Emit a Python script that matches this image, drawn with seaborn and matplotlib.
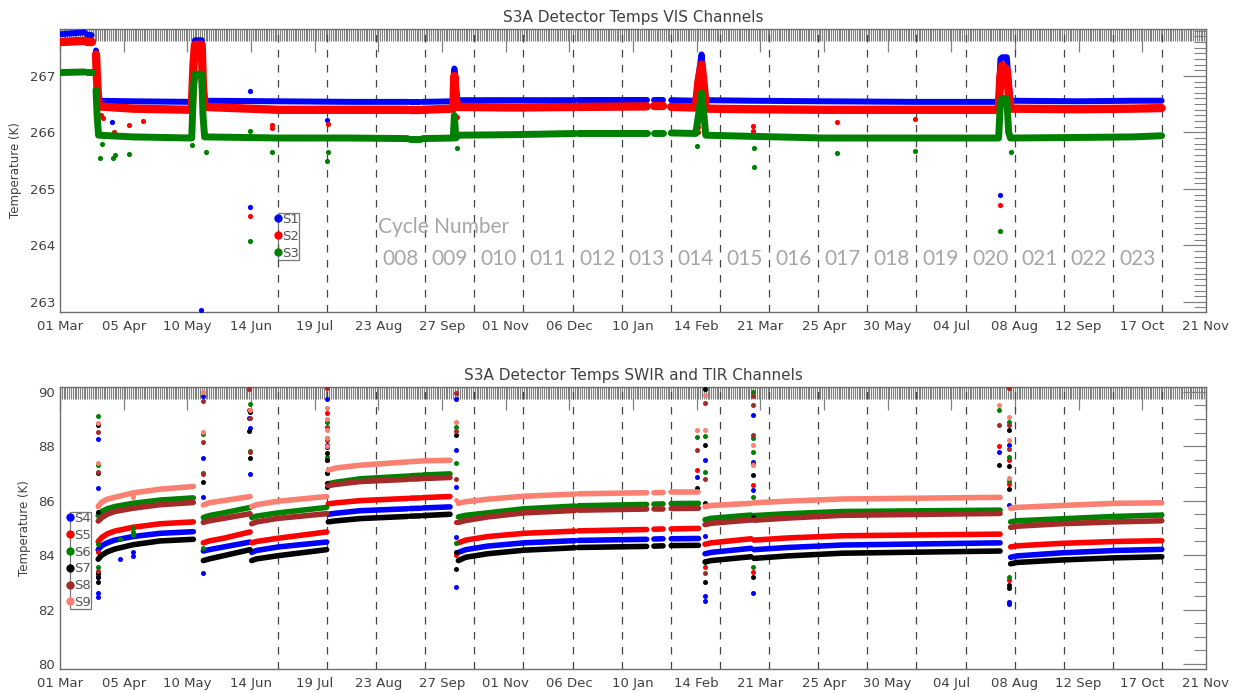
import numpy as np
import pandas as pd
import matplotlib
matplotlib.use("Agg")
import matplotlib.pyplot as plt
import matplotlib.dates as mdates
from matplotlib.ticker import FixedLocator, MultipleLocator
from matplotlib.lines import Line2D
import matplotlib.transforms as mtransforms
import seaborn as sns

sns.set_style("white")
plt.rcParams['font.family'] = ['DejaVu Sans']

# ---------------- data ----------------
START_DATE = "2016-03-01"          # day 0 of all "day" arrays
X_END_DAY = 630                    # 21 Nov 2017

x_tick_days = [0, 35, 70, 105, 140, 175, 210, 245, 280, 315, 350, 385, 420, 455, 490, 525, 560, 595, 630]
x_tick_labels = ['01 Mar', '05 Apr', '10 May', '14 Jun', '19 Jul', '23 Aug', '27 Sep', '01 Nov', '06 Dec',
                 '10 Jan', '14 Feb', '21 Mar', '25 Apr', '30 May', '04 Jul', '08 Aug', '12 Sep', '17 Oct', '21 Nov']

cycle_start_days = [119.8, 146.8, 173.8, 200.8, 227.8, 254.8, 281.8, 308.8, 335.8, 362.8,
                    389.8, 416.8, 443.8, 470.8, 497.8, 524.8, 551.8, 578.8, 605.8]
cycle_labels = ['008', '009', '010', '011', '012', '013', '014', '015',
                '016', '017', '018', '019', '020', '021', '022', '023']   # cycles starting at cycle_start_days[2:]

# ---- VIS channels (top panel): segments of dense samples ----
vis_seg_days = [
    [1, 13.5],
    [15, 17.4],
    [19.8, 20.4, 21.2, 40, 72.4, 73.4, 74.2, 77.9, 78.6, 79.5, 120, 160, 191],
    [192.5, 198],
    [199.5, 216.2, 216.8, 217.6, 218.5, 250, 283],
    [285, 322.5],
    [326.5, 331.5],
    [336, 349.5, 351, 352.7, 354, 355, 380, 420, 470, 516, 517, 518, 520.5, 521.5, 522.5, 560, 590, 605.6],
]
s1_vals = [
    [267.74, 267.77],
    [267.73, 267.72],
    [267.45, 267.0, 266.56, 266.55, 266.54, 267.3, 267.63, 267.63, 266.9, 266.56, 266.55, 266.54, 266.54],
    [266.54, 266.54],
    [266.54, 266.55, 267.13, 266.8, 266.57, 266.57, 266.57],
    [266.57, 266.57],
    [266.57, 266.57],
    [266.57, 266.56, 267.0, 267.38, 266.9, 266.57, 266.56, 266.55, 266.54, 266.54, 267.3, 267.33, 267.33,
     266.9, 266.56, 266.55, 266.56, 266.56],
]
s2_vals = [
    [267.6, 267.62],
    [267.6, 267.6],
    [267.38, 266.9, 266.46, 266.42, 266.4, 267.2, 267.55, 267.55, 266.8, 266.45, 266.4, 266.4, 266.4],
    [266.4, 266.4],
    [266.4, 266.42, 267.0, 266.6, 266.45, 266.44, 266.45],
    [266.45, 266.46],
    [266.46, 266.46],
    [266.45, 266.44, 266.9, 267.2, 266.8, 266.42, 266.41, 266.4, 266.4, 266.4, 267.0, 267.18, 267.1,
     266.7, 266.42, 266.41, 266.42, 266.43],
]
s3_vals = [
    [267.06, 267.07],
    [267.06, 267.06],
    [266.75, 266.3, 265.95, 265.92, 265.9, 266.8, 267.03, 267.03, 266.3, 265.92, 265.9, 265.9, 265.89],
    [265.89, 265.89],
    [265.89, 265.9, 266.3, 265.9, 265.95, 265.96, 265.98],
    [265.99, 265.99],
    [265.99, 265.99],
    [265.99, 265.98, 266.3, 266.7, 266.3, 265.95, 265.93, 265.9, 265.9, 265.9, 266.55, 266.6, 266.6,
     266.0, 265.9, 265.91, 265.92, 265.94],
]
# isolated VIS samples
s1_out_days = [28.4, 78.7, 77.5, 104.5, 104.5, 146.6, 516.8]
s1_out_vals = [266.18, 266.4, 262.86, 266.74, 264.67, 266.22, 264.89]
s2_out_days = [22.5, 23.5, 29.6, 38, 45.6, 104.5, 116.6, 116.6, 147.6, 218, 350.5, 350.5, 381, 381, 427, 470, 516.8]
s2_out_vals = [266.3, 266.25, 266.0, 266.13, 266.2, 264.52, 266.13, 266.08, 266.15, 266.27, 266.1, 266.0,
               266.12, 266.03, 266.18, 266.24, 264.71]
s3_out_days = [22, 23, 29, 30, 38, 72.5, 80.2, 104.5, 104.5, 116.6, 146.6, 147.6, 218.5, 350.4, 381.3, 381.3,
               427, 470, 516.8, 522.8]
s3_out_vals = [265.55, 265.8, 265.55, 265.6, 265.62, 265.77, 265.66, 264.08, 266.03, 265.65, 265.5, 265.66,
               265.73, 265.76, 265.38, 265.73, 265.64, 265.67, 264.26, 265.66]

# ---- SWIR / TIR channels (bottom panel) ----
swir_seg_days = [
    [21, 23, 26, 30, 40, 55, 73.3],
    [78.8, 82, 90, 104.5],
    [105.4, 108, 120, 146.6],
    [147.5, 152, 165, 191],
    [192.5, 198],
    [199.5, 214.4],
    [219, 223, 235, 255, 283],
    [285, 322.5],
    [326.5, 331.5],
    [336, 351],
    [354.6, 358, 379.9],
    [381.5, 400, 430, 516.8],
    [522.6, 526, 550, 580, 605.7],
]
s4_vals = [[84.2, 84.35, 84.45, 84.55, 84.68, 84.8, 84.86], [84.15, 84.2, 84.3, 84.48], [84.1, 84.17, 84.3, 84.48],
           [85.5, 85.54, 85.63, 85.7], [85.71, 85.72], [85.73, 85.77], [84.1, 84.2, 84.33, 84.45, 84.53],
           [84.54, 84.58], [84.59, 84.6], [84.6, 84.61], [84.05, 84.1, 84.25], [84.2, 84.28, 84.37, 84.45],
           [83.92, 83.97, 84.08, 84.17, 84.21]]
s5_vals = [[84.5, 84.65, 84.78, 84.88, 85.02, 85.15, 85.22], [84.45, 84.52, 84.62, 84.85], [84.45, 84.5, 84.62, 84.85],
           [85.88, 85.92, 86.0, 86.08], [86.09, 86.1], [86.11, 86.15], [84.45, 84.55, 84.68, 84.8, 84.88],
           [84.89, 84.94], [84.95, 84.96], [84.96, 84.98], [84.4, 84.45, 84.6], [84.55, 84.63, 84.71, 84.77],
           [84.3, 84.34, 84.43, 84.5, 84.53]]
s6_vals = [[85.45, 85.6, 85.7, 85.78, 85.9, 86.02, 86.1], [85.38, 85.45, 85.55, 85.75], [85.38, 85.43, 85.55, 85.75],
           [86.62, 86.68, 86.8, 86.9], [86.91, 86.93], [86.94, 86.98], [85.4, 85.46, 85.55, 85.7, 85.8],
           [85.81, 85.86], [85.87, 85.88], [85.89, 85.9], [85.3, 85.35, 85.47], [85.45, 85.52, 85.6, 85.65],
           [85.22, 85.26, 85.33, 85.42, 85.47]]
s7_vals = [[83.85, 84.0, 84.12, 84.22, 84.38, 84.52, 84.58], [83.8, 83.86, 83.98, 84.2], [83.8, 83.86, 83.98, 84.2],
           [85.22, 85.26, 85.34, 85.42], [85.43, 85.44], [85.45, 85.5], [83.8, 83.92, 84.05, 84.18, 84.27],
           [84.28, 84.32], [84.33, 84.34], [84.35, 84.36], [83.75, 83.8, 83.94], [83.88, 83.97, 84.07, 84.15],
           [83.68, 83.73, 83.82, 83.9, 83.94]]
s8_vals = [[85.25, 85.38, 85.5, 85.6, 85.72, 85.85, 85.93], [85.2, 85.26, 85.35, 85.52], [85.15, 85.22, 85.35, 85.52],
           [86.55, 86.6, 86.7, 86.78], [86.79, 86.8], [86.81, 86.85], [85.2, 85.27, 85.4, 85.55, 85.64],
           [85.65, 85.69], [85.7, 85.7], [85.71, 85.72], [85.12, 85.17, 85.29], [85.28, 85.36, 85.46, 85.53],
           [85.02, 85.06, 85.15, 85.22, 85.26]]
s9_vals = [[85.78, 85.95, 86.05, 86.12, 86.28, 86.42, 86.52], [85.84, 85.92, 86.0, 86.15], [85.78, 85.85, 85.98, 86.15],
           [87.12, 87.2, 87.3, 87.42], [87.43, 87.45], [87.46, 87.48], [85.9, 85.96, 86.05, 86.16, 86.24],
           [86.25, 86.29], [86.29, 86.3], [86.3, 86.3], [85.78, 85.82, 85.9], [85.92, 85.98, 86.06, 86.12],
           [85.72, 85.75, 85.82, 85.9, 85.92]]

# isolated SWIR / TIR samples
s4_out_days = [20.8, 20.8, 20.8, 20.8, 20.8, 33, 40.3, 40.3, 78.8, 78.8, 78.8, 78.8, 104.0, 104.6, 104.6,
               146.8, 146.8, 146.8, 217.5, 217.5, 217.5, 217.5, 217.5, 350, 354.6, 354.6, 354.6, 354.6,
               380.8, 380.8, 380.8, 380.8, 516.4, 521.8, 521.8, 521.8, 521.8]
s4_out_vals = [88.25, 86.45, 83.2, 82.6, 82.45, 83.84, 84.1, 83.98, 89.85, 87.58, 86.12, 83.35, 89.05, 88.68, 86.96,
               89.72, 88.04, 87.0, 89.72, 87.86, 86.49, 84.68, 82.84, 86.88, 87.49, 84.7, 82.5, 82.33,
               89.14, 87.43, 86.39, 82.6, 87.8, 88.04, 85.84, 82.29, 82.2]
s5_out_days = [20.8, 20.8, 104.0, 146.8, 146.8, 217.5, 217.5, 350, 354.6, 380.8, 380.8, 516.4, 521.8, 521.8, 521.8]
s5_out_vals = [84.12, 83.3, 89.33, 89.2, 87.5, 85.2, 84.0, 87.12, 83.57, 86.57, 83.39, 88.0, 87.49, 86.61, 83.08]
s6_out_days = [20.8, 20.8, 20.8, 20.8, 33, 40.3, 40.3, 40.3, 78.8, 78.8, 78.8, 104.6, 104.6, 146.8, 146.8, 146.8,
               217.5, 217.5, 217.5, 350, 354.6, 354.6, 354.6, 380.8, 380.8, 380.8, 380.8, 380.8, 516.4, 521.8,
               521.8, 521.8, 521.8]
s6_out_vals = [89.11, 87.31, 84.4, 83.57, 84.6, 85.0, 84.85, 84.74, 88.43, 87.03, 84.25, 89.53, 87.83, 88.9, 88.3, 87.6,
               88.71, 87.37, 84.43, 88.35, 88.37, 87.06, 83.76, 89.98, 88.29, 87.8, 86.14, 83.57, 89.33, 88.9,
               87.59, 86.73, 83.21]
s7_out_days = [20.8, 20.8, 20.8, 20.8, 20.8, 20.8, 78.8, 104.0, 104.6, 104.6, 146.8, 146.8, 146.8, 146.8, 146.8,
               146.8, 217.5, 217.5, 217.5, 350, 354.6, 354.6, 354.6, 354.6, 380.8, 380.8, 380.8, 516.4, 521.8,
               521.8, 521.8, 521.8, 521.8]
s7_out_vals = [88.78, 87.0, 85.6, 83.33, 83.21, 83.02, 86.7, 88.56, 89.24, 87.55, 87.98, 87.74, 87.49, 87.0, 86.63,
               86.51, 88.41, 84.12, 83.48, 86.45, 90.09, 88.04, 85.9, 83.02, 86.94, 85.41, 83.21, 87.31, 88.59,
               87.27, 86.41, 82.9, 82.78]
s8_out_days = [20.8, 20.8, 20.8, 78.8, 78.8, 78.8, 104.0, 104.6, 104.6, 146.8, 146.8, 146.8, 217.5, 217.5, 217.5,
               350, 354.6, 354.6, 354.6, 380.8, 380.8, 380.8, 380.8, 516.4, 521.8, 521.8, 521.8]
s8_out_vals = [88.53, 87.06, 83.43, 89.67, 88.16, 86.96, 90.09, 89.05, 87.8, 90.12, 88.7, 88.22, 89.94, 88.57, 86.79,
               87.86, 89.57, 86.78, 83.33, 89.84, 89.51, 88.41, 87.34, 88.78, 90.12, 88.78, 87.88]
s9_out_days = [20.8, 20.8, 20.8, 40.3, 78.8, 78.8, 104.6, 146.8, 146.8, 146.8, 146.8, 146.8, 217.5, 217.5,
               350, 354.6, 354.6, 380.8, 380.8, 516.4, 521.8, 521.8, 521.8]
s9_out_vals = [88.84, 87.39, 85.84, 86.14, 89.98, 88.53, 89.33, 89.39, 89.0, 88.6, 88.3, 88.0, 88.9, 86.02,
               88.59, 89.88, 88.59, 88.04, 87.31, 89.51, 89.08, 88.23, 86.82]

# ---------------- helpers ----------------
BASE = mdates.date2num(np.datetime64(START_DATE))
GRAY_TXT = '#404040'
FRAME = '#6e6e6e'
TICK = '#808080'


def seg_frame(days_list, vals_list):
    rows = []
    for k, (ds, vs) in enumerate(zip(days_list, vals_list)):
        for d, v in zip(ds, vs):
            rows.append((BASE + d, v, k))
    return pd.DataFrame(rows, columns=['x', 'temp', 'seg'])


def draw_channel(ax, days_list, vals_list, out_days, out_vals, color, lw, s):
    df = seg_frame(days_list, vals_list)
    sns.lineplot(data=df, x='x', y='temp', units='seg', estimator=None, sort=False,
                 color=color, linewidth=lw, solid_capstyle='round', legend=False, ax=ax, zorder=3)
    sns.scatterplot(x=BASE + np.asarray(out_days), y=np.asarray(out_vals), color=color, s=s,
                    linewidth=0, legend=False, ax=ax, zorder=3)


def style_axes(ax, ylim, ymaj, ymin, title):
    ax.set_xlim(BASE, BASE + X_END_DAY)
    ax.set_ylim(*ylim)
    ax.xaxis.set_major_locator(FixedLocator([BASE + d for d in x_tick_days]))
    ax.set_xticklabels(x_tick_labels)
    ax.xaxis.set_minor_locator(MultipleLocator(1))
    ax.yaxis.set_major_locator(FixedLocator(ymaj))
    ax.yaxis.set_minor_locator(MultipleLocator(ymin))
    ax.tick_params(axis='both', which='major', direction='in', length=16.5, width=0.9, color=TICK,
                   top=True, right=True, labelsize=9.5, labelcolor=GRAY_TXT)
    ax.tick_params(axis='both', which='minor', direction='in', length=8.5, width=0.8, color=TICK,
                   top=True, right=True)
    ax.tick_params(axis='x', which='major', pad=5.5)
    ax.tick_params(axis='y', which='major', pad=3.5)
    for sp in ax.spines.values():
        sp.set_color(FRAME)
        sp.set_linewidth(1.0)
    ax.set_xlabel('')
    ax.set_ylabel('Temperature (K)', fontsize=8.5, color=GRAY_TXT)
    ax.set_title(title, fontsize=11, color=GRAY_TXT, pad=5)
    for d in cycle_start_days:
        ax.axvline(BASE + d, color='#444444', lw=0.9, ls=(0, (6, 6)), zorder=1)


# ---------------- figure ----------------
fig = plt.figure(figsize=(12.44, 6.93), dpi=100)
fig.patch.set_facecolor('white')
W, H = 1244, 693
ax1 = fig.add_axes([60 / W, 1 - 312 / H, 1146 / W, 283 / H])
ax2 = fig.add_axes([60 / W, 1 - 669 / H, 1146 / W, 282 / H])

vis_colors = {'S1': '#0000ff', 'S2': '#ff0000', 'S3': '#008000'}
swir_colors = {'S4': '#0000ff', 'S5': '#ff0000', 'S6': '#008000',
               'S7': '#000000', 'S8': '#a52a2a', 'S9': '#fa8072'}

draw_channel(ax1, vis_seg_days, s1_vals, s1_out_days, s1_out_vals, vis_colors['S1'], 4.3, 14)
draw_channel(ax1, vis_seg_days, s2_vals, s2_out_days, s2_out_vals, vis_colors['S2'], 6.0, 14)
draw_channel(ax1, vis_seg_days, s3_vals, s3_out_days, s3_out_vals, vis_colors['S3'], 5.0, 14)

swir_vals = {'S4': s4_vals, 'S5': s5_vals, 'S6': s6_vals, 'S7': s7_vals, 'S8': s8_vals, 'S9': s9_vals}
swir_out = {'S4': (s4_out_days, s4_out_vals), 'S5': (s5_out_days, s5_out_vals), 'S6': (s6_out_days, s6_out_vals),
            'S7': (s7_out_days, s7_out_vals), 'S8': (s8_out_days, s8_out_vals), 'S9': (s9_out_days, s9_out_vals)}
for name in ['S4', 'S5', 'S6', 'S7', 'S8', 'S9']:
    draw_channel(ax2, swir_seg_days, swir_vals[name], swir_out[name][0], swir_out[name][1],
                 swir_colors[name], 4.0, 13)

style_axes(ax1, (262.82, 267.83), [263, 264, 265, 266, 267], 0.1, 'S3A Detector Temps VIS Channels')
style_axes(ax2, (79.82, 90.17), [80, 82, 84, 86, 88, 90], 0.5, 'S3A Detector Temps SWIR and TIR Channels')
ax1.yaxis.set_label_coords(-0.033, 0.5)
ax2.yaxis.set_label_coords(-0.025, 0.5)

# legends
def make_legend(ax, colors, anchor):
    handles = [Line2D([], [], ls='', marker='o', markersize=5, color=c, label=n) for n, c in colors.items()]
    leg = ax.legend(handles=handles, loc='upper left', bbox_to_anchor=anchor, borderpad=0,
                    borderaxespad=0, handlelength=0, handletextpad=0.3, labelspacing=0.29,
                    fontsize=9.5, frameon=True, fancybox=False)
    fr = leg.get_frame()
    fr.set_edgecolor('#555555')
    fr.set_facecolor('none')
    fr.set_linewidth(0.9)
    for t in leg.get_texts():
        t.set_color('#555555')
    leg.set_zorder(5)

make_legend(ax1, vis_colors, (0.1902, 0.35))
make_legend(ax2, swir_colors, (0.0087, 0.557))

# cycle number annotation
trans = mtransforms.blended_transform_factory(ax1.transData, ax1.transAxes)
cyc_font = ['Lato', 'DejaVu Sans']
ax1.text(BASE + cycle_start_days[2] + 1.0, 0.30, 'Cycle Number', transform=trans, ha='left', va='center',
         fontsize=15, color='#a6a6a6', family=cyc_font, zorder=4)
for i, lab in enumerate(cycle_labels):
    c = BASE + (cycle_start_days[2 + i] + cycle_start_days[3 + i]) / 2
    ax1.text(c, 0.186, lab, transform=trans, ha='center', va='center', fontsize=15,
             color='#a6a6a6', family=cyc_font, zorder=4)

fig.savefig('out.png', dpi=100)
